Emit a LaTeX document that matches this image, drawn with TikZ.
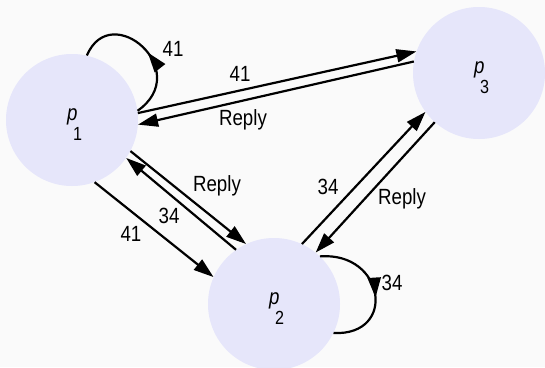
\documentclass[tikz,border=0pt]{standalone}
\usepackage{fontspec}
\setmainfont{Liberation Sans}[FakeStretch=0.85]
\usetikzlibrary{arrows.meta,decorations.markings}
\definecolor{bgcol}{HTML}{FAFAFA}
\definecolor{procfill}{HTML}{E6E6FA}
\newcommand{\procname}[1]{\raisebox{0pt}[0pt][0pt]{\makebox[0pt][l]{\hspace*{-5pt}\textit{p}\kern-4.4pt\raisebox{-20pt}{\fontsize{19}{19}\selectfont #1}}}}

\begin{document}
\begin{tikzpicture}[x=1pt,y=1pt,
  proc/.style={circle,fill=procfill,minimum size=132pt,inner sep=0pt,font=\fontsize{22}{22}\selectfont},
  lbl/.style={inner sep=0pt,font=\fontsize{22}{22}\selectfont},
  msg/.style={-{Triangle[length=20pt,width=13pt]},line width=2.2pt},
  loopmsg/.style={line width=2.2pt,postaction={decorate},
    decoration={markings,mark=at position #1 with {\arrow{Triangle[length=20pt,width=13pt]}}}}]
\useasboundingbox (0,0) rectangle (545,-367);
\fill [bgcol] (0,0) rectangle (545,-367);
% processes
\node [proc] (p1) at (72,-120) {\procname{1}};
\node [proc] (p2) at (274,-304) {\procname{2}};
\node [proc] (p3) at (479,-73) {\procname{3}};
% p1 and p3
\draw [msg] (p1.6) -- (p3.161);
\draw [msg] (p3.170) -- (p1.-4);
\node [lbl] (l13) at (240,-74) {41};
\node [lbl] (l31) at (243,-120) {Reply};
% p1 and p2
\draw [msg] (p1.-28) -- (p2.115);
\draw [msg] (p2.125) -- (p1.-35);
\draw [msg] (p1.-70) -- (p2.156);
\node [lbl] (l12r) at (217,-186) {Reply};
\node [lbl] (l21) at (169,-216) {34};
\node [lbl] (l12) at (131,-234) {41};
% p2 and p3
\draw [msg] (p2.65) -- (p3.216);
\draw [msg] (p3.228) -- (p2.51);
\node [lbl] (l23) at (328,-187) {34};
\node [lbl] (l32) at (402,-199) {Reply};
% self loops
\draw [loopmsg=0.47] (p1.8) .. controls +(57,40) and +(24,57) .. (p1.77);
\node [lbl] (l11) at (173,-49) {41};
\draw [loopmsg=0.55] (p2.46) .. controls +(65,5) and +(64,-3) .. (p2.-26);
\node [lbl] (l22) at (392,-283) {34};
\end{tikzpicture}
\end{document}
